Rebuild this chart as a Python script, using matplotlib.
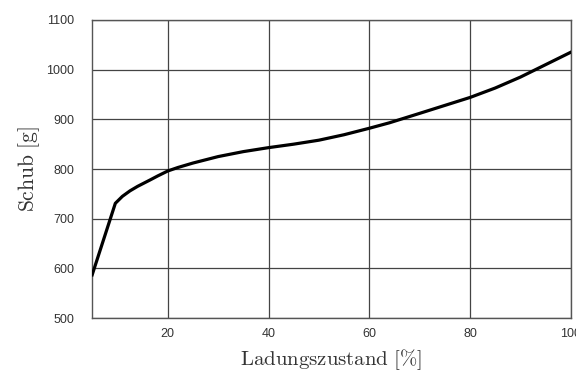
import numpy as np
import matplotlib
matplotlib.use("Agg")
import matplotlib.pyplot as plt

plt.rcParams['mathtext.fontset'] = 'cm'
plt.rcParams['font.family'] = ['Liberation Sans', 'DejaVu Sans']

# state of charge [%] vs. thrust [g]
soc = [5, 9.6, 11, 12.5, 14, 16.5, 18, 20, 22, 25, 30, 35, 40, 45, 50, 55,
       60, 64, 70, 75, 80, 85, 90, 93, 96, 100]
thrust = [587, 731, 745, 756, 765, 778, 786, 796, 803, 812, 825, 835, 843, 850,
          858, 869, 882, 893, 912, 928, 944, 963, 985, 1000, 1015, 1035]

xticks = [20, 40, 60, 80, 100]
yticks = [500, 600, 700, 800, 900, 1000, 1100]

fig = plt.figure(figsize=(5.76, 3.76), dpi=100)
ax = fig.add_axes([0.16, 0.154, 0.831, 0.793])

ax.plot(soc, thrust, color='black', lw=2.3, solid_joinstyle='round', zorder=3)

ax.set_xlim(5, 100)
ax.set_ylim(500, 1100)
ax.set_xticks(xticks)
ax.set_yticks(yticks)
ax.tick_params(axis='both', length=0, labelsize=9, colors='#333333')
ax.tick_params(axis='x', pad=7)
ax.tick_params(axis='y', pad=13)
ax.grid(True, color='#444444', lw=0.9)
for s in ax.spines.values():
    s.set_color('#555555')
    s.set_linewidth(1.0)

ax.set_xlabel(r'$\mathrm{Ladungszustand\ [\%]}$', fontsize=15, color='#333333', labelpad=5)
ax.set_ylabel(r'$\mathrm{Schub\ [g]}$', fontsize=15.5, color='#333333', labelpad=3)

fig.savefig('out.png', dpi=100)
